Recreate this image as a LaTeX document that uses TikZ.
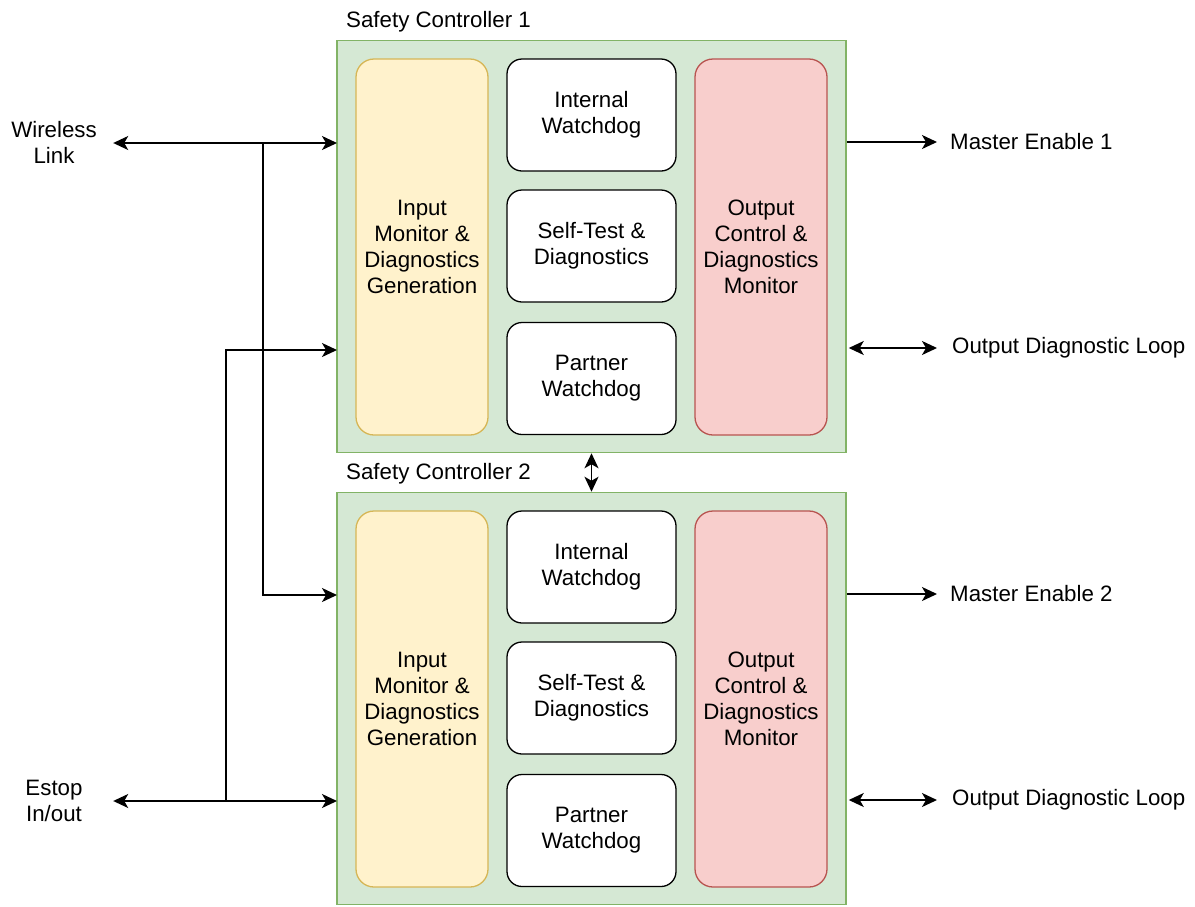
\documentclass[tikz,border=0pt]{standalone}
\usepackage{fontspec}
\setmainfont{Liberation Sans}
\usetikzlibrary{arrows.meta}
\definecolor{gfill}{HTML}{D5E8D4}\definecolor{gline}{HTML}{82B366}
\definecolor{yfill}{HTML}{FFF2CC}\definecolor{yline}{HTML}{D6B656}
\definecolor{rfill}{HTML}{F8CECC}\definecolor{rline}{HTML}{B85450}
\tikzset{
  every node/.style={font=\fontsize{22.3}{26}\selectfont, align=center},
  cont/.style={draw=gline, fill=gfill, line width=1.5pt, minimum width=509pt, minimum height=412pt, inner sep=0pt},
  inbox/.style={draw=yline, fill=yfill, line width=1.3pt, rounded corners=18pt, minimum width=132pt, minimum height=376pt, inner sep=0pt},
  outbox/.style={draw=rline, fill=rfill, line width=1.3pt, rounded corners=18pt, minimum width=132pt, minimum height=376pt, inner sep=0pt},
  wbox/.style={draw=black, fill=white, line width=1.3pt, rounded corners=15pt, minimum width=169pt, minimum height=112pt, inner sep=0pt},
  lbl/.style={inner sep=0pt},
  tip/.tip={Stealth[length=15pt,width=14pt,inset=4pt]},
  conn/.style={line width=1.6pt, arrows={-tip}},
  bconn/.style={line width=1.6pt, arrows={tip-tip}},
}
\begin{document}
\begin{tikzpicture}[x=1pt,y=-1pt]
\useasboundingbox[fill=white] (0,0) rectangle (1195,906);
\foreach \i/\dy in {1/0,2/452}{
  \node[cont] (sc\i) at (591.5,246.5+\dy) {};
  \node[lbl, anchor=base west] (sct\i) at (346,27+\dy) {Safety Controller \i};
  \node[inbox] (in\i) at (422,247+\dy) {Input\\Monitor \&\\Diagnostics\\Generation};
  \node[wbox] (iw\i) at (591.5,115+\dy) {Internal\\Watchdog};
  \node[wbox] (st\i) at (591.5,246+\dy) {Self-Test \&\\Diagnostics};
  \node[wbox] (pw\i) at (591.5,378.5+\dy) {Partner\\Watchdog};
  \node[outbox] (oc\i) at (761,247+\dy) {Output\\Control \&\\Diagnostics\\Monitor};
  \node[lbl, anchor=west, inner xsep=13pt] (me\i) at (937,142+\dy) {Master Enable \i};
  \node[lbl, anchor=west, inner xsep=15pt] (odl\i) at (937,348+\dy) {Output Diagnostic Loop};
  \draw[conn] (sc\i.east |- me\i) -- (me\i.west);
  \draw[bconn] ([xshift=2pt]sc\i.east |- odl\i) -- (odl\i.west);
}
\node[lbl, minimum width=118pt] (wl) at (54,142) {Wireless\\Link};
\node[lbl, minimum width=118pt] (es) at (54,801) {Estop\\In/out};
\coordinate (jw) at (263,143);
\coordinate (je) at (226,801);
\coordinate (a1) at (337,143);
\coordinate (a2) at (337,350);
\coordinate (a3) at (337,595);
\coordinate (a4) at (337,801);
\draw[bconn] (wl.east |- a1) -- (a1);
\draw[conn] (jw) |- (a3);
\draw[bconn] (es.east |- a4) -- (a4);
\draw[conn] (je) |- (a2);
\draw[bconn] (sc1.south) -- (sc2.north);
\end{tikzpicture}
\end{document}
